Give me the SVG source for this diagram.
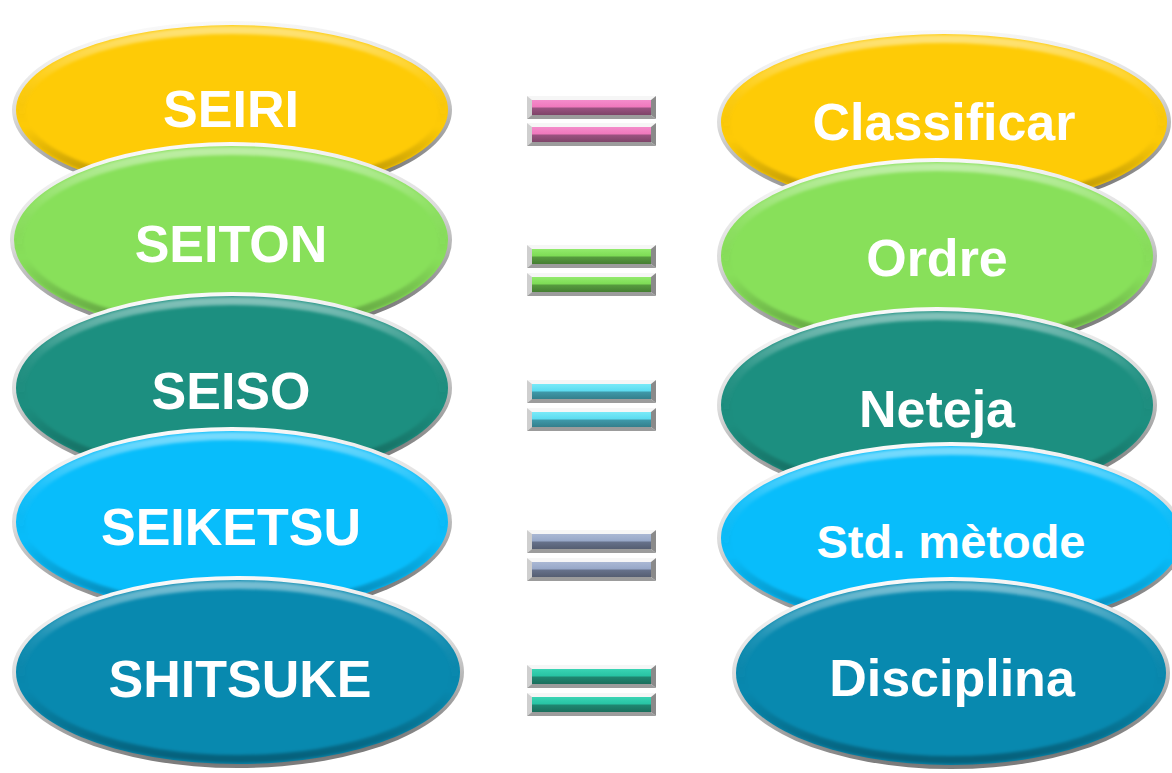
<svg xmlns="http://www.w3.org/2000/svg" xmlns:xlink="http://www.w3.org/1999/xlink" width="1172" height="773" viewBox="0 0 1172 773">
  <style>
    .lbl { font-family: "Liberation Sans", Arial, sans-serif; font-weight: bold; font-size: 52px; fill: #ffffff; text-anchor: middle; }
    .lbl-sm { font-size: 47px; }
    .rim { fill: url(#rimGrad); }
    .bevel { fill: none; stroke: url(#bevelGrad); stroke-width: 8; filter: url(#soft); }
    .yellow { fill: #FECB06; }
    .green { fill: #88E05A; }
    .teal { fill: #1C8F80; }
    .sky { fill: #08BDFB; }
    .ocean { fill: #0889AF; }
    .b-top { fill: #f6f6f6; }
    .b-left { fill: #cfcfcf; }
    .b-right { fill: #8a8a8a; }
    .b-bottom { fill: #9c9c9c; }
  </style>
  <defs>
    <linearGradient id="rimGrad" x1="0" y1="0" x2="0.2" y2="1">
      <stop offset="0" stop-color="#ffffff"/>
      <stop offset="0.5" stop-color="#dcdcdc"/>
      <stop offset="1" stop-color="#7c7c7c"/>
    </linearGradient>
    <linearGradient id="bevelGrad" x1="0" y1="0" x2="0" y2="1">
      <stop offset="0" stop-color="#ffffff" stop-opacity="0.45"/>
      <stop offset="0.3" stop-color="#ffffff" stop-opacity="0.08"/>
      <stop offset="0.6" stop-color="#000000" stop-opacity="0"/>
      <stop offset="1" stop-color="#000000" stop-opacity="0.3"/>
    </linearGradient>
    <filter id="soft" x="-5%" y="-5%" width="110%" height="110%">
      <feGaussianBlur stdDeviation="1.6"/>
    </filter>
    <!-- bar faces: light upper half, dark lower half -->
    <linearGradient id="facePink" x1="0" y1="0" x2="0" y2="1">
      <stop offset="0" stop-color="#f48ccb"/><stop offset="0.45" stop-color="#f079bd"/>
      <stop offset="0.55" stop-color="#9a5280"/><stop offset="1" stop-color="#7e4468"/>
    </linearGradient>
    <linearGradient id="faceGreen" x1="0" y1="0" x2="0" y2="1">
      <stop offset="0" stop-color="#92ea6c"/><stop offset="0.45" stop-color="#7edc56"/>
      <stop offset="0.55" stop-color="#569a3e"/><stop offset="1" stop-color="#457e32"/>
    </linearGradient>
    <linearGradient id="faceCyan" x1="0" y1="0" x2="0" y2="1">
      <stop offset="0" stop-color="#7aeaf8"/><stop offset="0.45" stop-color="#5ddcf0"/>
      <stop offset="0.55" stop-color="#3f98a8"/><stop offset="1" stop-color="#347f8c"/>
    </linearGradient>
    <linearGradient id="faceSlate" x1="0" y1="0" x2="0" y2="1">
      <stop offset="0" stop-color="#aab8d4"/><stop offset="0.45" stop-color="#98a8c8"/>
      <stop offset="0.55" stop-color="#66718a"/><stop offset="1" stop-color="#555e72"/>
    </linearGradient>
    <linearGradient id="faceTeal" x1="0" y1="0" x2="0" y2="1">
      <stop offset="0" stop-color="#3ad4b4"/><stop offset="0.45" stop-color="#28c4a4"/>
      <stop offset="0.55" stop-color="#1f8670"/><stop offset="1" stop-color="#1a6e5c"/>
    </linearGradient>
    <!-- bevelled bar frame, 129 x 23 -->
    <g id="barFrame">
      <polygon class="b-top" points="0,0 129,0 124,4 5,4"/>
      <polygon class="b-left" points="0,0 5,4 5,19 0,23"/>
      <polygon class="b-right" points="129,0 129,23 124,19 124,4"/>
      <polygon class="b-bottom" points="0,23 5,19 124,19 129,23"/>
    </g>
  </defs>

  <rect width="1172" height="773" fill="#ffffff"/>

  <!-- left column -->
  <g id="node-seiri">
    <ellipse class="rim" cx="232" cy="110" rx="220" ry="89"/>
    <ellipse class="yellow" cx="232" cy="110" rx="216" ry="85"/>
    <ellipse class="bevel" cx="232" cy="110" rx="211" ry="80"/>
    <text class="lbl" x="231" y="127">SEIRI</text>
  </g>
  <g id="node-seiton">
    <ellipse class="rim" cx="231" cy="240" rx="221" ry="98"/>
    <ellipse class="green" cx="231" cy="240" rx="217" ry="94"/>
    <ellipse class="bevel" cx="231" cy="240" rx="212" ry="89"/>
    <text class="lbl" x="231" y="262">SEITON</text>
  </g>
  <g id="node-seiso">
    <ellipse class="rim" cx="232" cy="388" rx="220" ry="96"/>
    <ellipse class="teal" cx="232" cy="388" rx="216" ry="92"/>
    <ellipse class="bevel" cx="232" cy="388" rx="211" ry="87"/>
    <text class="lbl" x="231" y="409">SEISO</text>
  </g>
  <g id="node-seiketsu">
    <ellipse class="rim" cx="232" cy="522" rx="220" ry="95"/>
    <ellipse class="sky" cx="232" cy="522" rx="216" ry="91"/>
    <ellipse class="bevel" cx="232" cy="522" rx="211" ry="86"/>
    <text class="lbl" x="231" y="545">SEIKETSU</text>
  </g>
  <g id="node-shitsuke">
    <ellipse class="rim" cx="238" cy="672" rx="226" ry="96"/>
    <ellipse class="ocean" cx="238" cy="672" rx="222" ry="92"/>
    <ellipse class="bevel" cx="238" cy="672" rx="217" ry="87"/>
    <text class="lbl" x="240" y="697">SHITSUKE</text>
  </g>

  <!-- right column -->
  <g id="node-classificar">
    <ellipse class="rim" cx="944" cy="122" rx="227" ry="92"/>
    <ellipse class="yellow" cx="944" cy="122" rx="223" ry="88"/>
    <ellipse class="bevel" cx="944" cy="122" rx="218" ry="83"/>
    <text class="lbl" x="944" y="140">Classificar</text>
  </g>
  <g id="node-ordre">
    <ellipse class="rim" cx="937" cy="256" rx="220" ry="98"/>
    <ellipse class="green" cx="937" cy="256" rx="216" ry="94"/>
    <ellipse class="bevel" cx="937" cy="256" rx="211" ry="89"/>
    <text class="lbl" x="937" y="276">Ordre</text>
  </g>
  <g id="node-neteja">
    <ellipse class="rim" cx="937" cy="405" rx="220" ry="98"/>
    <ellipse class="teal" cx="937" cy="405" rx="216" ry="94"/>
    <ellipse class="bevel" cx="937" cy="405" rx="211" ry="89"/>
    <text class="lbl" x="937" y="427">Neteja</text>
  </g>
  <g id="node-std-metode">
    <ellipse class="rim" cx="951" cy="538" rx="234" ry="96"/>
    <ellipse class="sky" cx="951" cy="538" rx="230" ry="92"/>
    <ellipse class="bevel" cx="951" cy="538" rx="225" ry="87"/>
    <text class="lbl lbl-sm" x="951" y="558">Std. mètode</text>
  </g>
  <g id="node-disciplina">
    <ellipse class="rim" cx="951" cy="673" rx="219" ry="96"/>
    <ellipse class="ocean" cx="951" cy="673" rx="215" ry="92"/>
    <ellipse class="bevel" cx="951" cy="673" rx="210" ry="87"/>
    <text class="lbl" x="952" y="696">Disciplina</text>
  </g>

  <!-- equals signs linking each pair -->
  <g id="connectors">
    <g id="eq-1">
      <use href="#barFrame" x="527" y="96"/><rect x="532" y="100" width="119" height="15" fill="url(#facePink)"/>
      <use href="#barFrame" x="527" y="123"/><rect x="532" y="127" width="119" height="15" fill="url(#facePink)"/>
    </g>
    <g id="eq-2">
      <use href="#barFrame" x="527" y="245"/><rect x="532" y="249" width="119" height="15" fill="url(#faceGreen)"/>
      <use href="#barFrame" x="527" y="273"/><rect x="532" y="277" width="119" height="15" fill="url(#faceGreen)"/>
    </g>
    <g id="eq-3">
      <use href="#barFrame" x="527" y="380"/><rect x="532" y="384" width="119" height="15" fill="url(#faceCyan)"/>
      <use href="#barFrame" x="527" y="408"/><rect x="532" y="412" width="119" height="15" fill="url(#faceCyan)"/>
    </g>
    <g id="eq-4">
      <use href="#barFrame" x="527" y="530"/><rect x="532" y="534" width="119" height="15" fill="url(#faceSlate)"/>
      <use href="#barFrame" x="527" y="558"/><rect x="532" y="562" width="119" height="15" fill="url(#faceSlate)"/>
    </g>
    <g id="eq-5">
      <use href="#barFrame" x="527" y="665"/><rect x="532" y="669" width="119" height="15" fill="url(#faceTeal)"/>
      <use href="#barFrame" x="527" y="693"/><rect x="532" y="697" width="119" height="15" fill="url(#faceTeal)"/>
    </g>
  </g>
</svg>
